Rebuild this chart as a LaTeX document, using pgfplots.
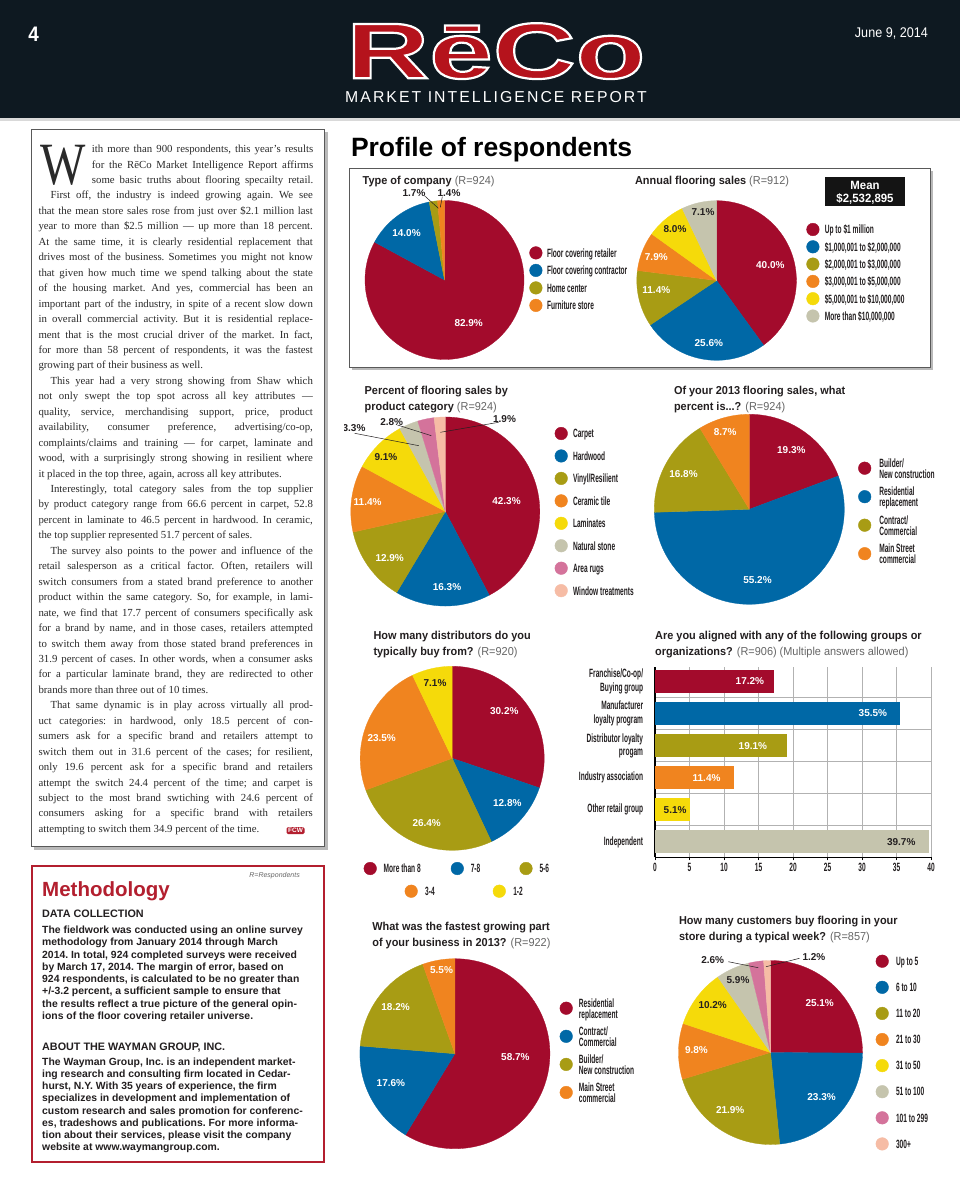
\documentclass[border=0pt]{standalone}
\usepackage{fontspec}
\setmainfont{Liberation Serif}
\newfontfamily\sansf{Liberation Sans}
\newfontfamily\condf{Liberation Sans}[FakeStretch=0.55]
\newfontfamily\titf{Liberation Sans}[FakeStretch=0.95]
\newfontfamily\hdrf{Liberation Sans}[FakeStretch=0.9]
\newfontfamily\mktf{Liberation Sans}[LetterSpace=13]
\newfontfamily\logof{Liberation Sans}[FakeStretch=1.45]
\usepackage{graphicx}
\usepackage{pgfplots}
\pgfplotsset{compat=1.18}
\definecolor{cred}{HTML}{A30B2C}
\definecolor{cblue}{HTML}{0068A6}
\definecolor{colive}{HTML}{A89C14}
\definecolor{corange}{HTML}{F0841F}
\definecolor{cyellow}{HTML}{F5DA0A}
\definecolor{cgray}{HTML}{C5C4AD}
\definecolor{cpink}{HTML}{D4739B}
\definecolor{csalmon}{HTML}{F6BCA5}
\definecolor{hdrbg}{HTML}{0E1921}
\definecolor{logored}{HTML}{B5131C}
\definecolor{methred}{HTML}{B31F2F}
\definecolor{txt}{HTML}{231F20}
\definecolor{arttxt}{HTML}{2A2A2A}
\definecolor{rgray}{HTML}{666666}
\newcommand\pctfont{\sansf\bfseries\fontsize{10}{12}\selectfont}
\newcommand\legfont{\condf\bfseries\fontsize{12}{11}\selectfont}
\newcommand\titfont{\titf\bfseries\fontsize{11.5}{16}\selectfont}
\newcommand\artfont{\fontsize{10.8}{15.45}\selectfont\frenchspacing}
\newcommand\methfont{\sansf\bfseries\fontsize{10.4}{12.25}\selectfont\frenchspacing}
\newcommand\Rn[1]{{\mdseries\color{rgray}#1}}
\newcommand\JL[1]{\hbox to \hsize{\spaceskip=.25em plus 1fil minus .08em\relax\xspaceskip=\spaceskip #1}}
\newcommand\NL[1]{\hbox{#1}}
% pie slice: radius, start (percent), value (percent), colour
\newcommand\slice[4]{\addplot[forget plot, fill=#4, draw=#4, line width=0.3pt, domain=3.6*#2:3.6*(#2+#3), samples=90, variable=\t] ({#1*sin(\t)},{#1*cos(\t)}) -- (axis cs:0,0) -- cycle;}
\newcommand\ttl[3]{\node[anchor=base west, inner sep=0pt, text=txt] at (#1,#2) {\parbox[t]{330pt}{\titfont #3}};}
\newcommand\pl[4]{\node[font=\pctfont, text=#4, inner sep=0pt] at (#1,-#2) {#3\%};}
\pgfplotsset{
 piechart/.style={hide axis, x=1pt, y=1pt, xmin=-100, xmax=100, ymin=-100, ymax=100, anchor=origin, clip=false,
   legend cell align=left,
   legend style={draw=none, fill=none, inner sep=0pt, outer sep=0pt, anchor=north west,
     nodes={inner sep=0pt, outer sep=0pt, text depth=0pt, align=left, font=\legfont, text=txt}}},
 lgi/.style={legend image code/.code={\fill[#1] (6.3pt,0pt) circle [radius=6.3pt];}},
}
\begin{document}
\begin{tikzpicture}[x=1pt,y=1pt]
\useasboundingbox (0,0) rectangle (960,-1183);
\fill[white] (0,0) rectangle (960,-1183);
% ---------- header
\fill[hdrbg] (0,0) rectangle (960,-118);
\fill[gray!30] (0,-118) rectangle (960,-121);
\node[anchor=base, inner sep=0pt, text=white, font=\hdrf\bfseries\fontsize{21}{21}\selectfont] at (33.7,-41.7) {4};
\node[anchor=base east, inner sep=0pt, text=white, font=\hdrf\fontsize{14}{14}\selectfont] at (928,-37.3) {June 9, 2014};
\node[anchor=base, inner sep=0pt, text depth=0pt, text=logored, font=\logof\bfseries\fontsize{79}{79}\selectfont] at (496,-78.3) {\special{pdf:literal direct 2 Tr 2.2 w 1 1 1 RG}RēCo\special{pdf:literal direct 0 Tr}};
\node[anchor=base, inner sep=0pt, text=white, font=\mktf\fontsize{15.8}{16}\selectfont] at (496,-102.3) {MARKET INTELLIGENCE REPORT};
% ---------- article box
\fill[gray!55] (34,-132) rectangle (327.5,-849.5);
\filldraw[fill=white, draw=gray!70!black, line width=0.8pt] (31,-129) rectangle (324,-846);
\node[anchor=base west, inner sep=0pt, text=arttxt] at (40,-184.5) {\scalebox{0.8}[1]{\fontsize{60}{60}\selectfont W}};
\node[anchor=base west, inner sep=0pt, text=arttxt] at (91.7,-152.6) {\parbox[t]{221.3pt}{\artfont
\JL{ith more than 900 respondents, this year’s results}
\JL{for the RēCo Market Intelligence Report affirms}
\JL{some basic truths about flooring specailty retail.}}};
\node[anchor=base west, inner sep=0pt, text=arttxt] at (38.3,-198.95) {\parbox[t]{274.4pt}{\artfont
\JL{\kern12pt First off, the industry is indeed growing again. We see}
\JL{that the mean store sales rose from just over \$2.1 million last}
\JL{year to more than \$2.5 million — up more than 18 percent.}
\JL{At the same time, it is clearly residential replacement that}
\JL{drives most of the business. Sometimes you might not know}
\JL{that given how much time we spend talking about the state}
\JL{of the housing market. And yes, commercial has been an}
\JL{important part of the industry, in spite of a recent slow down}
\JL{in overall commercial activity. But it is residential replace-}
\JL{ment that is the most crucial driver of the market. In fact,}
\JL{for more than 58 percent of respondents, it was the fastest}
\NL{growing part of their business as well.}
\JL{\kern12pt This year had a very strong showing from Shaw which}
\JL{not only swept the top spot across all key attributes —}
\JL{quality, service, merchandising support, price, product}
\JL{availability, consumer preference, advertising/co-op,}
\JL{complaints/claims and training — for carpet, laminate and}
\JL{wood, with a surprisingly strong showing in resilient where}
\NL{it placed in the top three, again, across all key attributes.}
\JL{\kern12pt Interestingly, total category sales from the top supplier}
\JL{by product category range from 66.6 percent in carpet, 52.8}
\JL{percent in laminate to 46.5 percent in hardwood. In ceramic,}
\NL{the top supplier represented 51.7 percent of sales.}
\JL{\kern12pt The survey also points to the power and influence of the}
\JL{retail salesperson as a critical factor. Often, retailers will}
\JL{switch consumers from a stated brand preference to another}
\JL{product within the same category. So, for example, in lami-}
\JL{nate, we find that 17.7 percent of consumers specifically ask}
\JL{for a brand by name, and in those cases, retailers attempted}
\JL{to switch them away from those stated brand preferences in}
\JL{31.9 percent of cases. In other words, when a consumer asks}
\JL{for a particular laminate brand, they are redirected to other}
\NL{brands more than three out of 10 times.}
\JL{\kern12pt That same dynamic is in play across virtually all prod-}
\JL{uct categories: in hardwood, only 18.5 percent of con-}
\JL{sumers ask for a specific brand and retailers attempt to}
\JL{switch them out in 31.6 percent of the cases; for resilient,}
\JL{only 19.6 percent ask for a specific brand and retailers}
\JL{attempt the switch 24.4 percent of the time; and carpet is}
\JL{subject to the most brand swtiching with 24.6 percent of}
\JL{consumers asking for a specific brand with retailers}
\NL{attempting to switch them 34.9 percent of the time.}}};
\node[fill=methred, rounded corners=1.5pt, inner xsep=1.6pt, inner ysep=1.2pt, text=white, font=\sansf\bfseries\fontsize{6.5}{6.5}\selectfont] at (295.5,-830.5) {FCW};
% ---------- methodology box
\draw[methred, line width=1.3pt] (32,-866) rectangle (324,-1162);
\node[anchor=base west, inner sep=0pt, text=methred, font=\sansf\bfseries\fontsize{20.5}{20.5}\selectfont] at (42,-896) {Methodology};
\node[anchor=base east, inner sep=0pt, text=rgray, font=\sansf\itshape\fontsize{7}{7}\selectfont] at (300,-877) {R=Respondents};
\node[anchor=base west, inner sep=0pt, text=txt, font=\sansf\bfseries\fontsize{10.8}{12}\selectfont] at (42,-917) {DATA COLLECTION};
\node[anchor=base west, inner sep=0pt, text=txt] at (42,-933.5) {\parbox[t]{280pt}{\methfont
\NL{The fieldwork was conducted using an online survey}
\NL{methodology from January 2014 through March}
\NL{2014. In total, 924 completed surveys were received}
\NL{by March 17, 2014. The margin of error, based on}
\NL{924 respondents, is calculated to be no greater than}
\NL{+/-3.2 percent, a sufficient sample to ensure that}
\NL{the results reflect a true picture of the general opin-}
\NL{ions of the floor covering retailer universe.}}};
\node[anchor=base west, inner sep=0pt, text=txt, font=\sansf\bfseries\fontsize{10.8}{12}\selectfont] at (42,-1050) {ABOUT THE WAYMAN GROUP, INC.};
\node[anchor=base west, inner sep=0pt, text=txt] at (42,-1065) {\parbox[t]{280pt}{\methfont
\NL{The Wayman Group, Inc. is an independent market-}
\NL{ing research and consulting firm located in Cedar-}
\NL{hurst, N.Y. With 35 years of experience, the firm}
\NL{specializes in development and implementation of}
\NL{custom research and sales promotion for conferenc-}
\NL{es, tradeshows and publications. For more informa-}
\NL{tion about their services, please visit the company}
\NL{website at www.waymangroup.com.}}};
% ---------- profile heading and box
\node[anchor=base west, inner sep=0pt, text=black, font=\sansf\bfseries\fontsize{26.5}{26.5}\selectfont] at (350.8,-156.7) {Profile of respondents};
\fill[gray!55] (352,-171) rectangle (933,-370);
\filldraw[fill=white, draw=gray!70!black, line width=1pt] (349,-168) rectangle (930,-367);
% ---------- titles
\ttl{362.5}{-184.1}{Type of company \Rn{(R=924)}}
\ttl{634.9}{-184.1}{Annual flooring sales \Rn{(R=912)}}
\ttl{364.5}{-394.1}{Percent of flooring sales by\\product category \Rn{(R=924)}}
\ttl{673.8}{-394.1}{Of your 2013 flooring sales, what\\percent is...? \Rn{(R=924)}}
\ttl{373.3}{-639.1}{How many distributors do you\\typically buy from? \Rn{(R=920)}}
\ttl{655}{-639.1}{Are you aligned with any of the following groups or\\organizations? \Rn{(R=906) (Multiple answers allowed)}}
\ttl{372.2}{-930.8}{What was the fastest growing part\\of your business in 2013? \Rn{(R=922)}}
\ttl{678.9}{-924.1}{How many customers buy flooring in your\\store during a typical week? \Rn{(R=857)}}
% ---------- mean box
\fill[black!92] (824.8,-176.7) rectangle (905.3,-206);
\node[inner sep=0pt, text=white, font=\titf\bfseries\fontsize{12}{12}\selectfont] at (865,-185.5) {Mean};
\node[inner sep=0pt, text=white, font=\titf\bfseries\fontsize{12}{12}\selectfont] at (865,-198.5) {\$2,532,895};
% ---------- Type of company
\begin{axis}[piechart, at={(444.5pt,-280pt)}, legend style={at={(axis cs:84.9,33.6)}, row sep=4.5pt, column sep=4.6pt}]
\slice{79.5}{0}{82.9}{cred}
\slice{79.5}{82.9}{14.0}{cblue}
\slice{79.5}{96.9}{1.7}{colive}
\slice{79.5}{98.6}{1.4}{corange}
\addlegendimage{lgi=cred}\addlegendentry{Floor covering retailer}
\addlegendimage{lgi=cblue}\addlegendentry{Floor covering contractor}
\addlegendimage{lgi=colive}\addlegendentry{Home center}
\addlegendimage{lgi=corange}\addlegendentry{Furniture store}
\end{axis}
% ---------- Annual flooring sales
\begin{axis}[piechart, at={(716.6pt,-280.5pt)}, legend style={at={(axis cs:89.8,57.5)}, row sep=4.3pt, column sep=5.4pt}]
\slice{79.8}{0}{40.0}{cred}
\slice{79.8}{40.0}{25.6}{cblue}
\slice{79.8}{65.6}{11.4}{colive}
\slice{79.8}{77.0}{7.9}{corange}
\slice{79.8}{84.9}{8.0}{cyellow}
\slice{79.8}{92.9}{7.1}{cgray}
\addlegendimage{lgi=cred}\addlegendentry{Up to \$1 million}
\addlegendimage{lgi=cblue}\addlegendentry{\$1,000,001 to \$2,000,000}
\addlegendimage{lgi=colive}\addlegendentry{\$2,000,001 to \$3,000,000}
\addlegendimage{lgi=corange}\addlegendentry{\$3,000,001 to \$5,000,000}
\addlegendimage{lgi=cyellow}\addlegendentry{\$5,000,001 to \$10,000,000}
\addlegendimage{lgi=cgray}\addlegendentry{More than \$10,000,000}
\end{axis}
% ---------- Product category
\begin{axis}[piechart, at={(445.3pt,-511.5pt)}, legend style={at={(axis cs:109.4,84.5)}, row sep=9.45pt, column sep=5.3pt}]
\slice{94.5}{0}{42.3}{cred}
\slice{94.5}{42.3}{16.3}{cblue}
\slice{94.5}{58.6}{12.9}{colive}
\slice{94.5}{71.5}{11.4}{corange}
\slice{94.5}{82.9}{9.1}{cyellow}
\slice{94.5}{92.0}{3.3}{cgray}
\slice{94.5}{95.3}{2.8}{cpink}
\slice{94.5}{98.1}{1.9}{csalmon}
\addlegendimage{lgi=cred}\addlegendentry{Carpet}
\addlegendimage{lgi=cblue}\addlegendentry{Hardwood}
\addlegendimage{lgi=colive}\addlegendentry{Vinyl/Resilient}
\addlegendimage{lgi=corange}\addlegendentry{Ceramic tile}
\addlegendimage{lgi=cyellow}\addlegendentry{Laminates}
\addlegendimage{lgi=cgray}\addlegendentry{Natural stone}
\addlegendimage{lgi=cpink}\addlegendentry{Area rugs}
\addlegendimage{lgi=csalmon}\addlegendentry{Window treatments}
\end{axis}
% ---------- 2013 sales
\begin{axis}[piechart, at={(749.3pt,-509.3pt)}, legend style={at={(axis cs:108.9,50.95)}, row sep=8.8pt, column sep=8.1pt}]
\slice{95}{0}{19.3}{cred}
\slice{95}{19.3}{55.2}{cblue}
\slice{95}{74.5}{16.8}{colive}
\slice{95}{91.3}{8.7}{corange}
\addlegendimage{lgi=cred}\addlegendentry{Builder/\\New construction}
\addlegendimage{lgi=cblue}\addlegendentry{Residential\\replacement}
\addlegendimage{lgi=colive}\addlegendentry{Contract/\\Commercial}
\addlegendimage{lgi=corange}\addlegendentry{Main Street\\commercial}
\end{axis}
% ---------- distributors
\begin{axis}[piechart, at={(452.2pt,-758.3pt)}, legend columns=3, legend style={at={(axis cs:-88.5,-103.7)}, column sep=7pt}]
\slice{92}{0}{30.2}{cred}
\slice{92}{30.2}{12.8}{cblue}
\slice{92}{43.0}{26.4}{colive}
\slice{92}{69.4}{23.5}{corange}
\slice{92}{92.9}{7.1}{cyellow}
\addlegendimage{lgi=cred}\addlegendentry{\makebox[60.1pt][l]{More than 8}}
\addlegendimage{lgi=cblue}\addlegendentry{\makebox[41.7pt][l]{7-8}}
\addlegendimage{lgi=colive}\addlegendentry{5-6}
\end{axis}
\begin{axis}[piechart, at={(452.2pt,-758.3pt)}, legend columns=2, legend style={at={(axis cs:-47.5,-126.4)}, column sep=7.5pt}]
\addlegendimage{lgi=corange}\addlegendentry{\makebox[60.1pt][l]{3-4}}
\addlegendimage{lgi=cyellow}\addlegendentry{1-2}
\end{axis}
% ---------- fastest growing
\begin{axis}[piechart, at={(454.9pt,-1053.7pt)}, legend style={at={(axis cs:104.8,55.35)}, row sep=8.4pt, column sep=6.2pt}]
\slice{95}{0}{58.7}{cred}
\slice{95}{58.7}{17.6}{cblue}
\slice{95}{76.3}{18.2}{colive}
\slice{95}{94.5}{5.5}{corange}
\addlegendimage{lgi=cred}\addlegendentry{Residential\\replacement}
\addlegendimage{lgi=cblue}\addlegendentry{Contract/\\Commercial}
\addlegendimage{lgi=colive}\addlegendentry{Builder/\\New construction}
\addlegendimage{lgi=corange}\addlegendentry{Main Street\\commercial}
\end{axis}
% ---------- customers
\begin{axis}[piechart, at={(770.5pt,-1052.5pt)}, legend style={at={(axis cs:105.2,97.8)}, row sep=13.1pt, column sep=7.3pt}]
\slice{92}{0}{25.1}{cred}
\slice{92}{25.1}{23.3}{cblue}
\slice{92}{48.4}{21.9}{colive}
\slice{92}{70.3}{9.8}{corange}
\slice{92}{80.1}{10.2}{cyellow}
\slice{92}{90.3}{5.9}{cgray}
\slice{92}{96.2}{2.6}{cpink}
\slice{92}{98.8}{1.2}{csalmon}
\addlegendimage{lgi=cred}\addlegendentry{Up to 5}
\addlegendimage{lgi=cblue}\addlegendentry{6 to 10}
\addlegendimage{lgi=colive}\addlegendentry{11 to 20}
\addlegendimage{lgi=corange}\addlegendentry{21 to 30}
\addlegendimage{lgi=cyellow}\addlegendentry{31 to 50}
\addlegendimage{lgi=cgray}\addlegendentry{51 to 100}
\addlegendimage{lgi=cpink}\addlegendentry{101 to 299}
\addlegendimage{lgi=csalmon}\addlegendentry{300+}
\end{axis}
% ---------- bar chart
\begin{axis}[at={(655pt,-857.3pt)}, anchor=south west, scale only axis, width=276pt, height=190.5pt,
 xmin=0, xmax=40, ymin=-0.48, ymax=5.455,
 axis lines*=left, axis line style={-, draw=black, line width=1.1pt},
 xtick={0,5,...,40}, ytick={0,1,2,3,4,5},
 yticklabels={Independent,Other retail group,Industry association,{Distributor loyalty\\progam},{Manufacturer\\loyalty program},{Franchise/Co-op/\\Buying group}},
 minor ytick={0.5,1.5,2.5,3.5,4.5},
 xmajorgrids, yminorgrids,
 major grid style={draw=gray!60, line width=0.9pt}, minor grid style={draw=gray!60, line width=0.9pt},
 tick align=outside, major tick length=3pt, minor tick length=0pt,
 xtick style={draw=black, line width=0.8pt}, ytick style={draw=none},
 /pgf/number format/assume math mode=true,
 xticklabel style={font=\condf\bfseries\fontsize{12}{12}\selectfont, text=txt, inner sep=0pt, yshift=-3pt},
 yticklabel style={font=\condf\bfseries\fontsize{12}{13.3}\selectfont, text=txt, align=right, inner sep=0pt, xshift=-8.7pt},
 xbar, bar width=23pt, point meta=x,
 nodes near coords={\pgfmathprintnumber[fixed,fixed zerofill,precision=1]{\pgfplotspointmeta}\%},
 every node near coord/.append style={font=\pctfont, anchor=east, inner sep=0pt},
]
\addplot[fill=cred, draw=none, bar shift=0pt, every node near coord/.append style={text=white, xshift=-9.4pt}] coordinates {(17.2,5)};
\addplot[fill=cblue, draw=none, bar shift=0pt, every node near coord/.append style={text=white, xshift=-12.7pt}] coordinates {(35.5,4)};
\addplot[fill=colive, draw=none, bar shift=0pt, every node near coord/.append style={text=white, xshift=-19.5pt}] coordinates {(19.1,3)};
\addplot[fill=corange, draw=none, bar shift=0pt, every node near coord/.append style={text=white, xshift=-13pt}] coordinates {(11.4,2)};
\addplot[fill=cyellow, draw=none, bar shift=0pt, every node near coord/.append style={text=txt, xshift=-3.5pt}] coordinates {(5.1,1)};
\addplot[fill=cgray, draw=none, bar shift=0pt, every node near coord/.append style={text=txt, xshift=-13.3pt}] coordinates {(39.7,0)};
\end{axis}
% ---------- percent labels
\pl{406.5}{233}{14.0}{white}
\pl{468.7}{322.7}{82.9}{white}
\pl{414}{192.7}{1.7}{txt}
\pl{449}{193.3}{1.4}{txt}
\draw[txt, line width=0.5pt] (424.8,-196) -- (438.4,-208.3);
\draw[txt, line width=0.5pt] (442.3,-196.7) -- (440.3,-207.3);
\pl{770.3}{265}{40.0}{white}
\pl{708.8}{343.3}{25.6}{white}
\pl{656.3}{290}{11.4}{white}
\pl{656.3}{257.3}{7.9}{white}
\pl{675}{229.3}{8.0}{txt}
\pl{703}{211.7}{7.1}{txt}
\pl{506.5}{501}{42.3}{white}
\pl{447}{587}{16.3}{white}
\pl{389.7}{558.3}{12.9}{white}
\pl{367.6}{502.3}{11.4}{white}
\pl{385.9}{456.7}{9.1}{txt}
\begin{scope}
\clip (344,-400) rectangle (560,-450);
\pl{354}{428.3}{3.3}{txt}
\end{scope}
\pl{391.7}{421.7}{2.8}{txt}
\pl{504.5}{419.3}{1.9}{txt}
\draw[txt, line width=0.5pt] (354.7,-433.3) -- (418.9,-445.7);
\draw[txt, line width=0.5pt] (397.5,-425) -- (431.4,-435.7);
\draw[txt, line width=0.5pt] (498.7,-422.3) -- (440.3,-432.3);
\pl{791.3}{450}{19.3}{white}
\pl{757.5}{580}{55.2}{white}
\pl{683.5}{474.3}{16.8}{white}
\pl{725.2}{431.7}{8.7}{white}
\pl{504.3}{710.7}{30.2}{white}
\pl{507.3}{802.7}{12.8}{white}
\pl{426.7}{823.3}{26.4}{white}
\pl{381.7}{738.3}{23.5}{white}
\pl{435}{682.7}{7.1}{txt}
\pl{441.5}{970}{5.5}{white}
\pl{395.6}{1007.3}{18.2}{white}
\pl{515.4}{1057.3}{58.7}{white}
\pl{390.9}{1082.7}{17.6}{white}
\pl{819.7}{1003.3}{25.1}{white}
\pl{821.6}{1096.7}{23.3}{white}
\pl{730.2}{1110}{21.9}{white}
\pl{696.4}{1050}{9.8}{white}
\pl{712.7}{1005}{10.2}{txt}
\pl{738}{980}{5.9}{txt}
\pl{712.7}{960}{2.6}{txt}
\pl{813.9}{956.7}{1.2}{txt}
\draw[txt, line width=0.5pt] (728.3,-961.7) -- (758.2,-967.7);
\draw[txt, line width=0.5pt] (799.5,-958.3) -- (766,-966.7);
\end{tikzpicture}
\end{document}
